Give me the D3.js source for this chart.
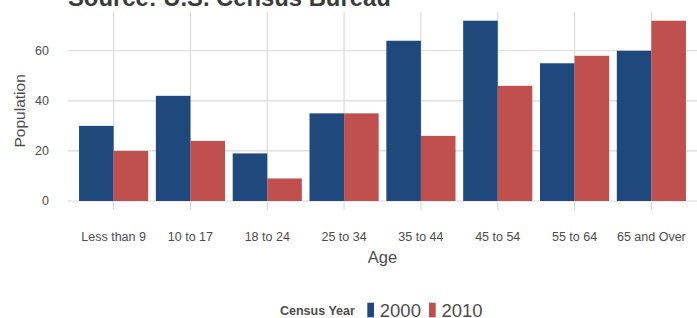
<html>
  <head>
    <title>Population by age</title>
    <script src="https://d3js.org/d3.v7.min.js"></script>
    <style>
      body { margin: 0; background: #fff; font-family: "Liberation Sans", Arial, sans-serif; }
    </style>
  </head>
  <body>
    <svg width="697" height="318"></svg>
    <script>
      // data
      var ages = ["Less than 9", "10 to 17", "18 to 24", "25 to 34", "35 to 44", "45 to 54", "55 to 64", "65 and Over"];
      var years = ["2000", "2010"];
      var pop2000 = [30, 42, 19, 35, 64, 72, 55, 60];
      var pop2010 = [20, 24, 9, 35, 26, 46, 58, 72];
      var yTicks = [0, 20, 40, 60];
      var colors = ["#1f497d", "#c0504d"];

      var svg = d3.select("svg");
      var panel = { left: 67.5, right: 697.5, top: 11.7, bottom: 210 };

      var x = d3.scaleBand().domain(ages)
        .range([75.2, 689.8]).paddingInner(0.1).paddingOuter(0.05);
      var xs = d3.scaleBand().domain(years).range([0, x.bandwidth()]);
      var y = d3.scaleLinear().domain([-3.6, 75.6]).range([panel.bottom, panel.top]);

      var grid = svg.append("g").attr("stroke", "#d9d9d9").attr("stroke-width", 1.1);
      grid.selectAll(".h").data(yTicks).enter().append("line")
        .attr("x1", panel.left).attr("x2", panel.right)
        .attr("y1", function(d){ return y(d); }).attr("y2", function(d){ return y(d); });
      grid.selectAll(".v").data(ages).enter().append("line")
        .attr("x1", function(d){ return x(d) + x.bandwidth() / 2; })
        .attr("x2", function(d){ return x(d) + x.bandwidth() / 2; })
        .attr("y1", panel.top).attr("y2", panel.bottom);

      var rows = ages.map(function(a, i){ return { age: a, vals: [pop2000[i], pop2010[i]] }; });
      var groups = svg.selectAll(".grp").data(rows).enter().append("g")
        .attr("transform", function(d){ return "translate(" + x(d.age) + ",0)"; });
      groups.selectAll("rect").data(function(d){ return d.vals.map(function(v, j){ return { v: v, yr: years[j], j: j }; }); })
        .enter().append("rect")
        .attr("x", function(d){ return xs(d.yr); })
        .attr("width", xs.bandwidth())
        .attr("y", function(d){ return y(d.v); })
        .attr("height", function(d){ return y(0) - y(d.v); })
        .attr("fill", function(d){ return colors[d.j]; });

      // y axis labels
      svg.selectAll(".yl").data(yTicks).enter().append("text")
        .attr("x", 49).attr("y", function(d){ return y(d); })
        .attr("dy", "0.35em").attr("text-anchor", "end")
        .attr("font-size", 12.5).attr("fill", "#4d4d4d")
        .text(function(d){ return d; });

      // x axis labels
      svg.selectAll(".xl").data(ages).enter().append("text")
        .attr("x", function(d){ return x(d) + x.bandwidth() / 2; }).attr("y", 241.3)
        .attr("text-anchor", "middle")
        .attr("font-size", 12.5).attr("fill", "#4d4d4d")
        .text(function(d){ return d; });

      // axis titles
      svg.append("text").attr("x", (panel.left + panel.right) / 2).attr("y", 262.5)
        .attr("text-anchor", "middle").attr("font-size", 16.5).attr("fill", "#4d4d4d").text("Age");
      svg.append("text")
        .attr("transform", "translate(25," + (panel.top + panel.bottom) / 2 + ") rotate(-90)")
        .attr("text-anchor", "middle").attr("font-size", 15.5).attr("fill", "#4d4d4d").text("Population");

      // title, clipped at the top
      svg.append("text").attr("x", 68).attr("y", 6)
        .attr("font-size", 23.8).attr("font-weight", "bold").attr("fill", "#3b3b3b")
        .text("Source: U.S. Census Bureau");

      // legend
      var leg = svg.append("g");
      leg.append("text").attr("x", 280).attr("y", 314.8)
        .attr("font-size", 12.5).attr("font-weight", "bold").attr("fill", "#4d4d4d").text("Census Year");
      var keyX = [367.3, 429];
      years.forEach(function(yr, i){
        leg.append("rect").attr("x", keyX[i]).attr("y", 302.7).attr("width", 6.7).attr("height", 14.6)
          .attr("fill", colors[i]);
        leg.append("text").attr("x", keyX[i] + 12.5).attr("y", 316.5)
          .attr("font-size", 18.5).attr("fill", "#4d4d4d").text(yr);
      });
    </script>
  </body>
</html>
